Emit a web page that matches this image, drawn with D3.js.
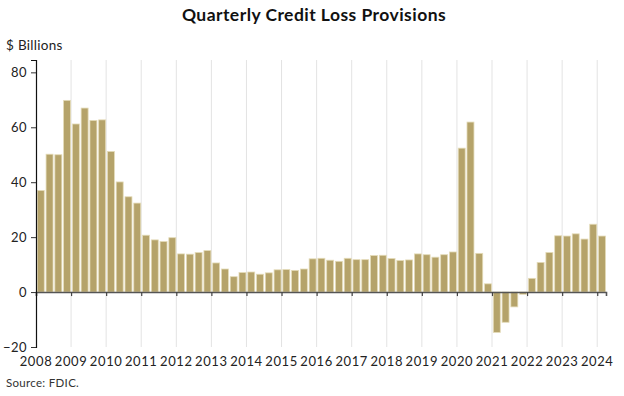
<!DOCTYPE html>
<html>
<head>
<meta charset="utf-8">
<script src="https://cdn.jsdelivr.net/npm/d3@7"></script>
<style>
    body { margin: 0; background: #fff; }
    svg { font-family: Lato, "Open Sans", sans-serif; display: block; }
</style>
</head>
<body>
<div id="chart"></div>
<script>
// Quarterly credit loss provisions, $ billions, 2008 Q1 - 2024 Q1.
const startYear = 2008;
const provisions = [
    37.0, 50.2, 50.0, 69.8,
    61.2, 67.0, 62.5, 62.7,
    51.2, 40.1, 34.7, 32.4,
    20.7, 19.0, 18.4, 19.8,
    13.9, 13.8, 14.4, 15.1,
    10.6, 8.4, 5.6, 7.1,
    7.3, 6.5, 7.0, 8.1,
    8.2, 7.9, 8.4, 12.1,
    12.3, 11.6, 11.2, 12.3,
    11.8, 11.8, 13.3, 13.4,
    12.2, 11.5, 11.7, 13.9,
    13.6, 12.7, 13.6, 14.6,
    52.4, 61.9, 14.1, 3.0,
    -14.7, -11.0, -5.4, -0.8,
    5.0, 10.8, 14.4, 20.5,
    20.4, 21.2, 19.3, 24.7,
    20.4
];
const yearTicks = d3.range(2008, 2025);
const valueTicks = [-20, 0, 20, 40, 60, 80];

const width = 624, height = 396;
const margin = {top: 60, right: 18, bottom: 49, left: 36};
const innerW = width - margin.left - margin.right;
const innerH = height - margin.top - margin.bottom;

const svg = d3.select('#chart')
    .append('svg')
        .attr('width', width)
        .attr('height', height);

// Title and labels.
svg.append('text')
    .attr('x', 314).attr('y', 21)
    .attr('text-anchor', 'middle')
    .style('font-size', '17.5px')
    .style('font-weight', 'bold')
    .style('letter-spacing', '0.45px')
    .attr('fill', '#111')
    .text('Quarterly Credit Loss Provisions');

svg.append('text')
    .attr('x', 6).attr('y', 50)
    .style('font-size', '13.5px')
    .style('letter-spacing', '0.3px')
    .attr('fill', '#222')
    .text('$ Billions');

svg.append('text')
    .attr('x', 6).attr('y', 387)
    .style('font-size', '11.5px')
    .style('letter-spacing', '0.3px')
    .attr('fill', '#333')
    .text('Source: FDIC.');

const g = svg.append('g')
    .attr('transform', `translate(${margin.left},${margin.top})`);

// Scales: x is continuous in years, one quarter = 0.25.
const data = provisions.map((v, i) => ({t: startYear + i / 4, value: v}));
const x = d3.scaleLinear()
    .domain([startYear, startYear + provisions.length / 4])
    .range([0, innerW]);
const y = d3.scaleLinear().domain([-20, 84.5]).range([innerH, 0]);

// Vertical gridlines at each year.
g.append('g')
    .selectAll('line')
    .data(yearTicks.slice(1))
    .enter()
    .append('line')
        .attr('x1', d => x(d)).attr('x2', d => x(d))
        .attr('y1', 0).attr('y2', innerH)
        .attr('stroke', '#e3e3e3')
        .attr('stroke-width', 1);

// Bars.
const qw = x(startYear + 0.25) - x(startYear);
g.selectAll('rect.bar')
    .data(data)
    .enter()
    .append('rect')
        .attr('class', 'bar')
        .attr('x', d => x(d.t) + 1.3)
        .attr('y', d => y(Math.max(0, d.value)))
        .attr('width', qw - 1.8)
        .attr('height', d => Math.abs(y(d.value) - y(0)))
        .attr('fill', '#b5a36a')
        .attr('stroke', '#e4dbb8')
        .attr('stroke-width', 0.8);

// Zero line with year ticks.
const xAxis = g.append('g')
    .attr('transform', `translate(0,${y(0)})`)
    .call(d3.axisBottom(x).tickValues(yearTicks).tickSize(4).tickFormat(''));
xAxis.select('.domain').attr('stroke', '#555').attr('stroke-width', 1.6);
xAxis.selectAll('.tick line').attr('stroke', '#444').attr('stroke-width', 1.2);

// Year labels at the bottom.
g.append('g')
    .selectAll('text')
    .data(yearTicks)
    .enter()
    .append('text')
        .attr('x', d => x(d))
        .attr('y', innerH + 19)
        .attr('text-anchor', 'middle')
        .style('font-size', '13px')
        .style('letter-spacing', '0.6px')
        .attr('fill', '#222')
        .text(d => d);

// Left axis.
const yAxis = g.append('g')
    .call(d3.axisLeft(y).tickValues(valueTicks).tickSize(5).tickPadding(4));
yAxis.select('.domain').attr('stroke', '#111').attr('stroke-width', 1.2);
yAxis.selectAll('.tick line').attr('stroke', '#333');
yAxis.selectAll('text')
    .style('font-size', '13px')
    .style('letter-spacing', '0.5px')
    .style('font-family', 'Lato, "Open Sans", sans-serif')
    .attr('fill', '#222');
</script>
</body>
</html>
